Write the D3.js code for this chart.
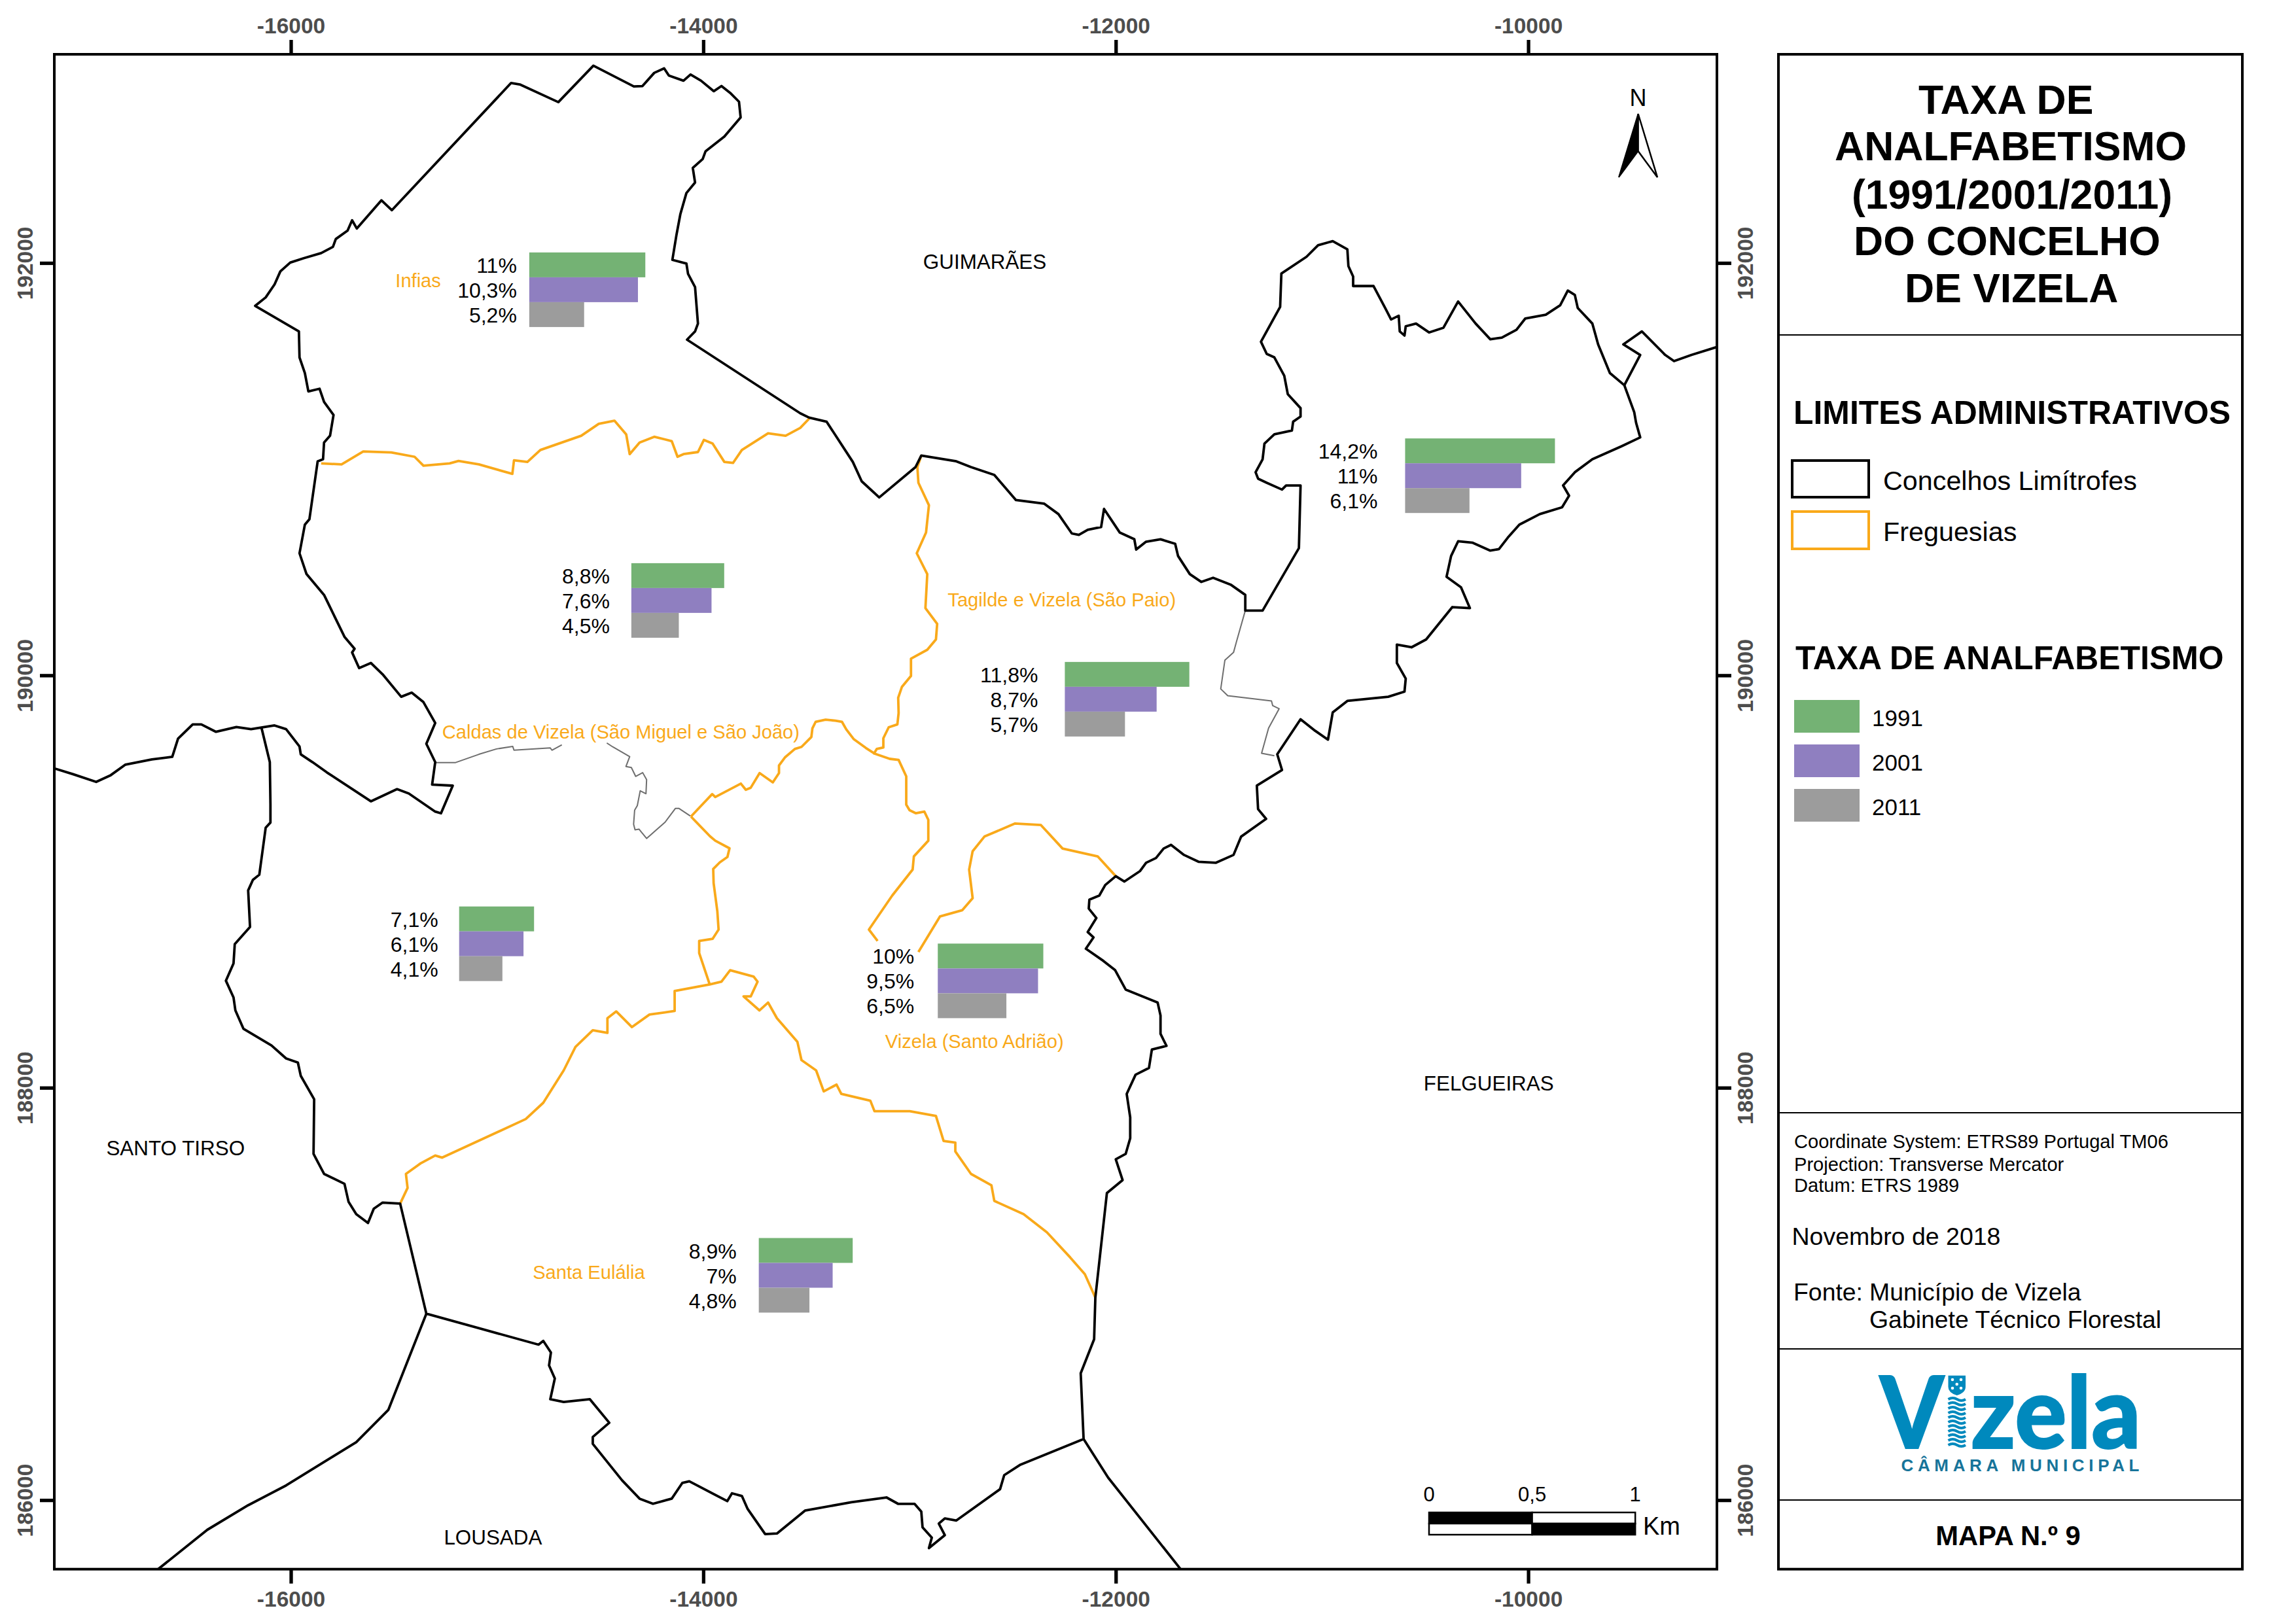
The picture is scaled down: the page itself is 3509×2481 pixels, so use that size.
<!DOCTYPE html>
<html>
<head>
<meta charset="utf-8">
<title>Taxa de analfabetismo - Vizela</title>
<script src="https://d3js.org/d3.v7.min.js"></script>
<style>
body { margin: 0; background: #fff; }
text { font-family: "Liberation Sans", Arial, sans-serif; }
</style>
</head>
<body>
<div id="map"></div>
<script>
// values, boundaries in metres (ETRS89 TM06)
var parishes = ["Infias", "Caldas", "Tagilde", "Nordeste", "Oeste", "Santo Adrião", "Santa Eulália"];
var years = ["1991", "2001", "2011"];
var rate1991 = [11, 8.8, 11.8, 14.2, 7.1, 10, 8.9];
var rate2001 = [10.3, 7.6, 8.7, 11, 6.1, 9.5, 7];
var rate2011 = [5.2, 4.5, 5.7, 6.1, 4.1, 6.5, 4.8];
var barEast = [-14844, -14349, -12247, -10597, -15184, -12863, -13731];
var barNorth = [192051, 190544, 190065, 191149, 188879, 188699, 187271];

var xTicks = [-16000, -14000, -12000, -10000];
var yTicks = [186000, 188000, 190000, 192000];

var placeNames = ["GUIMARÃES", "SANTO TIRSO", "LOUSADA", "FELGUEIRAS"];
var placeEast = [-12934, -16895, -15258, -10507];
var placeNorth = [191972, 187673, 185784, 187987];

var parishNames = ["Infias", "Caldas de Vizela (São Miguel e São João)", "Tagilde e Vizela (São Paio)", "Vizela (Santo Adrião)", "Santa Eulália"];
var parishNameEast = [-15493, -15266, -12815, -13118, -14827];
var parishNameNorth = [191883, 189693, 190333, 188194, 187073];

var limiteConcelho = [
[-17148,189549],[-17057,189521],[-16944,189483],[-16873,189516],[-16802,189567],[-16674,189592],[-16575,189605],[-16547,189693],
[-16476,189762],[-16434,189762],[-16363,189726],[-16264,189749],[-16193,189739],[-16079,189757],[-16023,189739],[-15958,189655],
[-15952,189617],[-15895,189579],[-15825,189529],[-15612,189389],[-15485,189448],[-15428,189427],[-15300,189339],[-15272,189331],
[-15215,189465],[-15315,189470],[-15300,189579],[-15343,189668],[-15300,189769],[-15357,189870],[-15414,189916],[-15465,189896],
[-15555,190005],[-15612,190060],[-15669,190035],[-15703,190111],[-15691,190129],[-15740,190187],[-15839,190390],[-15924,190491],
[-15958,190592],[-15932,190731],[-15910,190757],[-15870,191038],[-15844,191048],[-15839,191129],[-15810,191162],[-15793,191263],
[-15839,191326],[-15861,191390],[-15915,191377],[-15932,191466],[-15958,191542],[-15961,191668],[-16173,191792],[-16122,191833],
[-16079,191896],[-16051,191959],[-16003,192002],[-15938,192023],[-15853,192048],[-15796,192078],[-15782,192116],[-15725,192157],
[-15703,192207],[-15680,192167],[-15561,192304],[-15510,192256],[-14932,192873],[-14890,192866],[-14703,192780],[-14533,192957],
[-14337,192856],[-14295,192858],[-14238,192922],[-14190,192944],[-14167,192909],[-14096,192884],[-14062,192914],[-14011,192884],
[-13949,192833],[-13912,192858],[-13870,192825],[-13827,192782],[-13819,192706],[-13898,192613],[-13989,192542],[-14003,192504],
[-14051,192461],[-14040,192390],[-14082,192339],[-14111,192238],[-14130,192137],[-14150,192015],[-14082,191997],[-14074,191947],
[-14040,191883],[-14026,191706],[-14040,191668],[-14079,191628],[-13530,191271],[-13487,191250],[-13402,191230],[-13275,191035],
[-13232,190941],[-13147,190863],[-12971,191010],[-12943,191066],[-12773,191038],[-12702,191010],[-12589,190972],[-12484,190850],
[-12348,190833],[-12278,190782],[-12213,190688],[-12179,190681],[-12136,190706],[-12071,190719],[-12057,190807],[-11981,190693],
[-11910,190660],[-11901,190610],[-11853,190648],[-11783,190660],[-11712,190638],[-11698,190579],[-11641,190491],[-11585,190453],
[-11528,190473],[-11443,190440],[-11372,190390],[-11372,190314],[-11288,190314],[-11112,190617],[-11104,190921],[-11174,190921],
[-11194,190901],[-11268,190934],[-11310,190954],[-11322,190985],[-11288,191048],[-11279,191124],[-11231,191169],[-11146,191187],
[-11140,191230],[-11104,191255],[-11104,191296],[-11166,191364],[-11183,191453],[-11231,191542],[-11268,191559],[-11296,191618],
[-11203,191787],[-11197,191949],[-11075,192030],[-11019,192086],[-10948,192106],[-10877,192066],[-10872,191985],[-10849,191934],
[-10849,191888],[-10750,191888],[-10694,191782],[-10665,191726],[-10628,191744],[-10623,191668],[-10600,191648],[-10594,191693],
[-10544,191706],[-10481,191663],[-10411,191686],[-10340,191813],[-10255,191706],[-10184,191630],[-10128,191638],[-10057,191676],
[-10014,191731],[-9915,191749],[-9845,191795],[-9808,191866],[-9774,191845],[-9760,191782],[-9689,191706],[-9661,191605],
[-9604,191466],[-9534,191407],[-9486,191276],[-9477,191225],[-9457,191154],[-9548,191111],[-9689,191048],[-9774,190985],
[-9831,190921],[-9802,190871],[-9836,190815],[-9944,190782],[-10043,190731],[-10099,190668],[-10142,190612],[-10184,190605],
[-10269,190643],[-10340,190650],[-10374,190579],[-10396,190478],[-10326,190427],[-10283,190326],[-10368,190331],[-10495,190174],
[-10566,190136],[-10637,190149],[-10637,190060],[-10594,189984],[-10600,189921],[-10679,189896],[-10877,189876],[-10948,189820],
[-10971,189688],[-11033,189731],[-11104,189787],[-11217,189617],[-11194,189541],[-11316,189465],[-11310,189351],[-11271,189304],
[-11392,189218],[-11429,189129],[-11514,189091],[-11599,189096],[-11669,189129],[-11732,189178],[-11768,189160],[-11805,189114],
[-11853,189091],[-11882,189051],[-11958,189000],[-12000,189026],[-12051,188983],[-12080,188932],[-12128,188912],[-12131,188869],
[-12094,188823],[-12136,188755],[-12108,188729],[-12145,188674],[-12060,188615],[-12003,188570],[-11952,188476],[-11797,188413],
[-11783,188350],[-11783,188261],[-11754,188203],[-11825,188185],[-11839,188096],[-11904,188063],[-11947,187970],[-11930,187856],
[-11930,187755],[-11952,187679],[-12000,187653],[-11967,187552],[-12043,187489],[-12099,186982],[-12105,186780],[-12170,186615],
[-12156,186296],[-12462,186172],[-12541,186121],[-12561,186053],[-12773,185901],[-12829,185911],[-12858,185886],[-12829,185830],
[-12906,185767],[-12892,185818],[-12937,185868],[-12943,185944],[-12976,185982],[-13056,185982],[-13112,186013],[-13282,185990],
[-13507,185949],[-13643,185838],[-13700,185835],[-13785,185957],[-13813,186020],[-13861,186033],[-13884,185995],[-14068,186091],
[-14102,186083],[-14153,186007],[-14244,185982],[-14309,186007],[-14394,186096],[-14536,186273],[-14536,186306],[-14456,186375],
[-14550,186489],[-14677,186476],[-14742,186489],[-14720,186590],[-14748,186653],[-14739,186716],[-14776,186772],[-14799,186754],
[-15343,186904],[-15470,187438],[-15555,187443],[-15598,187413],[-15626,187344],[-15683,187387],[-15720,187446],[-15740,187534],
[-15839,187582],[-15890,187679],[-15887,187944],[-15952,188058],[-15966,188122],[-16023,188142],[-16094,188205],[-16230,188286],
[-16269,188375],[-16278,188438],[-16315,188519],[-16278,188603],[-16272,188696],[-16198,188780],[-16207,188957],[-16184,189008],
[-16153,189033],[-16122,189261],[-16099,189286],[-16099,189375],[-16102,189579],[-16142,189744]
];
var limiteLousada = [[-15343,186904],[-15527,186438],[-15683,186281],[-16023,186071],[-16207,185975],[-16405,185856],[-16646,185663]];
var limiteFelgueiras = [[-12156,186296],[-12037,186109],[-11684,185663]];
var limiteNordeste = [[-9534,191407],[-9457,191554],[-9539,191605],[-9449,191668],[-9336,191554],[-9293,191524],[-9208,191554],[-9087,191592]];

var freguesias = [
[[-15853,191028],[-15754,191023],[-15649,191086],[-15513,191081],[-15400,191060],[-15357,191017],[-15230,191028],[-15187,191040],
 [-15088,191023],[-14926,190977],[-14918,191043],[-14853,191035],[-14790,191093],[-14592,191162],[-14507,191220],[-14431,191235],
 [-14374,191169],[-14357,191073],[-14309,191129],[-14238,191157],[-14153,191136],[-14125,191060],[-14096,191073],[-14026,191083],
 [-13997,191142],[-13955,191124],[-13898,191035],[-13856,191030],[-13813,191093],[-13686,191174],[-13601,191162],[-13530,191200],[-13487,191245]],
[[-12943,191066],[-12962,191010],[-12957,190934],[-12906,190825],[-12920,190693],[-12965,190592],[-12914,190491],[-12923,190326],
 [-12866,190250],[-12872,190174],[-12914,190124],[-12993,190081],[-12993,189997],[-13037,189944],[-13055,189891],[-13053,189817],
 [-13059,189762],[-13101,189748],[-13127,189695],[-13127,189650],[-13159,189643],[-13172,189621],[-13096,189595],[-13053,189590],
 [-13016,189510],[-13016,189373],[-13000,189346],[-12969,189331],[-12928,189339],[-12909,189299],
 [-12909,189198],[-12979,189122],[-12985,189058],[-13084,188932],[-13197,188767],[-13155,188712]],
[[-14060,189315],[-14010,189368],[-13957,189424],[-13942,189410],[-13818,189475],[-13794,189445],[-13770,189455],[-13727,189526],
 [-13663,189481],[-13633,189526],[-13633,189563],[-13603,189603],[-13556,189643],[-13524,189653],[-13476,189701],[-13471,189743],
 [-13455,189775],[-13407,189785],[-13360,189780],[-13328,189775],[-13307,189738],[-13270,189690],[-13212,189648],[-13170,189621]],
[[-14060,189315],[-13968,189220],[-13942,189198],[-13873,189161],[-13883,189119],[-13920,189093],[-13952,189061],[-13950,188992],
 [-13932,188856],[-13926,188767],[-13955,188722],[-14020,188712],[-14020,188653],[-13969,188501]],
[[-15470,187438],[-15434,187514],[-15442,187582],[-15371,187633],[-15300,187671],[-15266,187661],[-14861,187848],[-14776,187927],
 [-14677,188084],[-14620,188198],[-14536,188279],[-14465,188266],[-14465,188337],[-14422,188370],[-14346,188294],[-14261,188355],
 [-14139,188372],[-14139,188469],[-13969,188501],[-13912,188514],[-13870,188570],[-13756,188539],[-13737,188514],[-13770,188443],
 [-13805,188443],[-13728,188375],[-13686,188413],[-13643,188337],[-13544,188223],[-13524,188134],[-13453,188084],[-13416,187982],
 [-13354,188015],[-13331,187970],[-13190,187937],[-13170,187886],[-12999,187886],[-12872,187863],[-12835,187742],[-12778,187734],
 [-12778,187691],[-12702,187582],[-12603,187527],[-12589,187451],[-12447,187387],[-12334,187299],[-12221,187177],[-12150,187096],[-12099,186982]],
[[-12957,188658],[-12852,188831],[-12744,188861],[-12694,188919],[-12711,189058],[-12694,189147],[-12637,189218],[-12490,189281],
 [-12363,189274],[-12258,189160],[-12088,189122],[-12000,189026]]
];

var rioVizela = [
[[-15300,189577],[-15201,189577],[-15088,189617],[-15003,189643],[-14924,189655],[-14918,189637],[-14742,189648],[-14734,189637],[-14686,189663]],
[[-14468,189672],[-14439,189653],[-14357,189606],[-14375,189558],[-14349,189553],[-14328,189510],[-14294,189528],[-14275,189494],
 [-14278,189426],[-14306,189440],[-14320,189368],[-14333,189346],[-14338,189278],[-14331,189251],[-14312,189254],[-14275,189209],
 [-14185,189288],[-14135,189355],[-14119,189355],[-14063,189318]],
[[-11372,190314],[-11415,190162],[-11429,190111],[-11471,190073],[-11491,189934],[-11457,189901],[-11245,189876],[-11239,189853],
 [-11208,189838],[-11259,189744],[-11293,189622],[-11231,189610]]
];

var green = "#74b274", purple = "#8f7fc0", gray = "#9c9c9c", orange = "#f9a91a", blue = "#0089bd";
var yearColor = d3.scaleOrdinal().domain(years).range([green, purple, gray]);
var frame = { left: 83, right: 2624, top: 83, bottom: 2398.7 };

var svg = d3.select("#map").append("svg").attr("width", 3509).attr("height", 2481);
svg.append("rect").attr("width", 3509).attr("height", 2481).attr("fill", "#fff");

var x = d3.scaleLinear().domain([-17147, -9085]).range([frame.left, frame.right]);
var y = d3.scaleLinear().domain([193012, 185665]).range([frame.top, frame.bottom]);
var line = d3.line().x(function(d) { return x(d[0]); }).y(function(d) { return y(d[1]); });

svg.append("clipPath").attr("id", "clip").append("rect")
	.attr("x", frame.left).attr("y", frame.top)
	.attr("width", frame.right - frame.left).attr("height", frame.bottom - frame.top);
var map = svg.append("g").attr("clip-path", "url(#clip)");

function drawLines(list, color, width) {
	map.selectAll(null).data(list).enter().append("path")
		.attr("d", line).attr("fill", "none").attr("stroke", color)
		.attr("stroke-width", width).attr("stroke-linejoin", "round");
}
drawLines(rioVizela, "#6e6e6e", 2);
drawLines(freguesias, orange, 3.8);
drawLines([limiteConcelho, limiteLousada, limiteFelgueiras, limiteNordeste], "#000", 3.8);

// axes round the frame
function styleAxis(g) {
	g.select(".domain").remove();
	g.selectAll("line").attr("stroke", "#000").attr("stroke-width", 5.3);
	g.selectAll("text").attr("fill", "#4d4d4d").attr("font-size", 33.5).attr("font-weight", "bold")
		.style("font-family", '"Liberation Sans"');
}
var fmt = function(d) { return String(d); };
svg.append("g").attr("transform", "translate(0," + frame.top + ")")
	.call(d3.axisTop(x).tickValues(xTicks).tickFormat(fmt).tickSize(22).tickPadding(10)).call(styleAxis);
svg.append("g").attr("transform", "translate(0," + frame.bottom + ")")
	.call(d3.axisBottom(x).tickValues(xTicks).tickFormat(fmt).tickSize(22).tickPadding(12)).call(styleAxis);
svg.append("g").attr("transform", "translate(" + frame.left + ",0)")
	.call(d3.axisLeft(y).tickValues(yTicks).tickFormat(fmt).tickSize(22)).call(styleAxis)
	.selectAll("text").attr("text-anchor", "middle").attr("dy", 0).attr("x", 0).attr("y", 0)
	.attr("transform", "translate(-33,0) rotate(-90)");
svg.append("g").attr("transform", "translate(" + frame.right + ",0)")
	.call(d3.axisRight(y).tickValues(yTicks).tickFormat(fmt).tickSize(22)).call(styleAxis)
	.selectAll("text").attr("text-anchor", "middle").attr("dy", 0).attr("x", 0).attr("y", 0)
	.attr("transform", "translate(55,0) rotate(-90)");
svg.append("rect").attr("x", frame.left).attr("y", frame.top)
	.attr("width", frame.right - frame.left).attr("height", frame.bottom - frame.top)
	.attr("fill", "none").attr("stroke", "#000").attr("stroke-width", 4);

// place names
svg.selectAll(".place").data(placeNames).enter().append("text").attr("class", "place")
	.attr("x", function(d, i) { return x(placeEast[i]); })
	.attr("y", function(d, i) { return y(placeNorth[i]); })
	.attr("font-size", 31.4).attr("fill", "#000").text(function(d) { return d; });
svg.selectAll(".parish").data(parishNames).enter().append("text").attr("class", "parish")
	.attr("x", function(d, i) { return x(parishNameEast[i]); })
	.attr("y", function(d, i) { return y(parishNameNorth[i]); })
	.attr("font-size", 29.1).attr("fill", orange).text(function(d) { return d; });

// bars
var barLength = d3.scaleLinear().domain([0, 14.2]).range([0, 229]);
var barRow = d3.scaleBand().domain(years).range([0, 114]);
var labelGap = [19, 33, 41, 42, 32, 36, 34];
var barGroups = svg.selectAll(".bars").data(parishes).enter().append("g").attr("class", "bars")
	.attr("transform", function(d, i) { return "translate(" + x(barEast[i]) + "," + y(barNorth[i]) + ")"; });
barGroups.each(function(d, i) {
	var rows = [rate1991[i], rate2001[i], rate2011[i]];
	var g = d3.select(this);
	g.selectAll("rect").data(rows).enter().append("rect")
		.attr("x", 0).attr("y", function(v, j) { return barRow(years[j]); })
		.attr("width", function(v) { return barLength(v); }).attr("height", barRow.bandwidth())
		.attr("fill", function(v, j) { return yearColor(years[j]); });
	g.selectAll("text").data(rows).enter().append("text")
		.attr("x", -labelGap[i]).attr("y", function(v, j) { return barRow(years[j]) + barRow.bandwidth() / 2 + 12; })
		.attr("text-anchor", "end").attr("font-size", 32).attr("fill", "#000")
		.text(function(v) { return String(v).replace(".", ",") + "%"; });
});

// north arrow
svg.append("text").attr("x", 2503.6).attr("y", 162).attr("text-anchor", "middle").attr("font-size", 36).text("N");
svg.append("path").attr("d", "M2503.6,174 L2474,271 L2503.6,231 Z").attr("fill", "#000").attr("stroke", "#000").attr("stroke-width", 2);
svg.append("path").attr("d", "M2503.6,174 L2533,271 L2503.6,231 Z").attr("fill", "#fff").attr("stroke", "#000").attr("stroke-width", 2.5);

// scale bar
var scaleKm = d3.scaleLinear().domain([0, 1]).range([x(-10481), x(-10481) + x(-9000) - x(-10000)]);
var scaleTop = 2312, scaleH = 17;
[[0, 0.5, "#000", "#fff"], [0.5, 1, "#fff", "#000"]].forEach(function(s) {
	svg.append("rect").attr("x", scaleKm(s[0])).attr("y", scaleTop).attr("width", scaleKm(s[1]) - scaleKm(s[0])).attr("height", scaleH).attr("fill", s[2]).attr("stroke", "#000").attr("stroke-width", 2.5);
	svg.append("rect").attr("x", scaleKm(s[0])).attr("y", scaleTop + scaleH).attr("width", scaleKm(s[1]) - scaleKm(s[0])).attr("height", scaleH).attr("fill", s[3]).attr("stroke", "#000").attr("stroke-width", 2.5);
});
[0, 0.5, 1].forEach(function(k) {
	svg.append("text").attr("x", scaleKm(k)).attr("y", 2295).attr("text-anchor", "middle").attr("font-size", 31)
		.text(String(k).replace(".", ","));
});
svg.append("text").attr("x", 2511).attr("y", 2346).attr("font-size", 38).text("Km");

// side panel
var panel = svg.append("g");
panel.append("rect").attr("x", 2718).attr("y", 83).attr("width", 709).attr("height", 2315.7)
	.attr("fill", "#fff").attr("stroke", "#000").attr("stroke-width", 4);
[512, 1701, 2062, 2293].forEach(function(v) {
	panel.append("line").attr("x1", 2718).attr("x2", 3427).attr("y1", v).attr("y2", v).attr("stroke", "#000").attr("stroke-width", 2);
});

function label(t, px, py, size, bold) {
	return panel.append("text").attr("x", px).attr("y", py).attr("font-size", size)
		.attr("font-weight", bold ? "bold" : "normal").attr("fill", "#000").text(t);
}
var titleLines = ["TAXA DE", "ANALFABETISMO", "(1991/2001/2011)", "DO CONCELHO", "DE VIZELA"];
var titleX = [2932, 2804, 2830, 2833, 2911], titleY = [173.6, 245, 318.6, 390, 462];
titleLines.forEach(function(t, i) { label(t, titleX[i], titleY[i], 62.5, true); });

label("LIMITES ADMINISTRATIVOS", 2741, 648, 49.9, true);
panel.append("rect").attr("x", 2739).attr("y", 704).attr("width", 117).attr("height", 56).attr("fill", "#fff").attr("stroke", "#000").attr("stroke-width", 4);
panel.append("rect").attr("x", 2739).attr("y", 782).attr("width", 117).attr("height", 57).attr("fill", "#fff").attr("stroke", orange).attr("stroke-width", 4);
label("Concelhos Limítrofes", 2878, 749, 41.3);
label("Freguesias", 2878, 827, 41.3);

label("TAXA DE ANALFABETISMO", 2744, 1022.6, 49.85, true);
var legendRow = d3.scaleOrdinal().domain(years).range([1070, 1138, 1206]);
years.forEach(function(yr) {
	panel.append("rect").attr("x", 2742).attr("y", legendRow(yr)).attr("width", 100).attr("height", 50).attr("fill", yearColor(yr));
	label(yr, 2861, legendRow(yr) + 40, 35);
});

label("Coordinate System: ETRS89 Portugal TM06", 2742, 1755, 29.1);
label("Projection: Transverse Mercator", 2742, 1790, 29.1);
label("Datum: ETRS 1989", 2742, 1822, 29.1);
label("Novembro de 2018", 2738.5, 1903, 37.5);
label("Fonte:", 2741, 1987.5, 37.4);
label("Município de Vizela", 2857, 1987.5, 37.4);
label("Gabinete Técnico Florestal", 2857, 2030, 37.4);
label("MAPA N.º 9", 3069, 2362, 41.7, true).attr("text-anchor", "middle");

// logo
var logo = panel.append("g").attr("fill", blue);
logo.append("text").attr("x", 2873).attr("y", 2214).attr("font-size", 152).style("font-family", "Lato").attr("font-weight", 900)
	.attr("textLength", 98).attr("lengthAdjust", "spacingAndGlyphs").attr("stroke", blue).attr("stroke-width", 2).text("V");
logo.append("text").attr("x", 3012).attr("y", 2214).attr("font-size", 152).style("font-family", "Lato").attr("font-weight", 900)
	.attr("textLength", 260).attr("lengthAdjust", "spacingAndGlyphs").attr("stroke", blue).attr("stroke-width", 2).text("zela");
logo.append("path").attr("d", "M2977.5,2102.7 H3004 V2120 Q3004,2129 2990.7,2133 Q2977.5,2129 2977.5,2120 Z").attr("fill", blue);
[[2984, 2109], [2997, 2109], [2990.7, 2116], [2984, 2122], [2997, 2122]].forEach(function(p) {
	logo.append("circle").attr("cx", p[0]).attr("cy", p[1]).attr("r", 2.3).attr("fill", "#fff");
});
d3.range(2139, 2214, 7).forEach(function(w) {
	logo.append("path").attr("d", "M2977.5," + w + " q7,-4 13.5,0 t13,0").attr("fill", "none").attr("stroke", blue).attr("stroke-width", 4);
});
logo.append("text").attr("x", 2905.5).attr("y", 2249).attr("font-size", 26).attr("font-weight", "bold")
	.attr("textLength", 364).attr("lengthAdjust", "spacing").attr("fill", "#17749a").text("CÂMARA MUNICIPAL");
</script>
</body>
</html>
